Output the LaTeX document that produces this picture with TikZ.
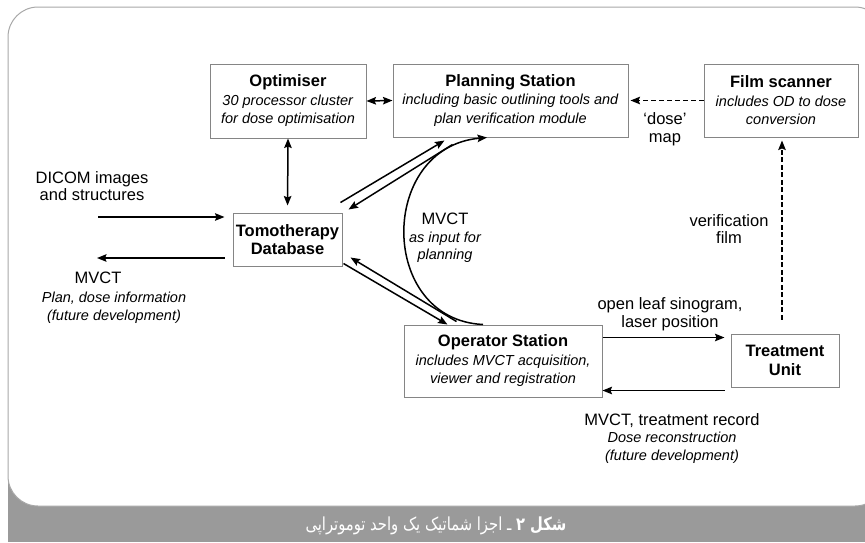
\documentclass[tikz,border=0pt]{standalone}
\usepackage{fontspec}
\setmainfont{Liberation Sans}
\newfontfamily\arabicfont[Script=Arabic, FakeStretch=0.82]{DejaVu Sans}
\TeXXeTstate=1
\usetikzlibrary{arrows.meta,calc}
\definecolor{capgray}{HTML}{9A9A9A}
\definecolor{framegray}{HTML}{A8A8A8}
\definecolor{boxgray}{HTML}{858585}
\newcommand\boxtitle[1]{{\bfseries\fontsize{16.5}{18.5}\selectfont #1}}
\newcommand\itL{\fontsize{14.5}{17.5}\selectfont\itshape}
\begin{document}
\begin{tikzpicture}[x=1pt,y=-1pt,
  >={Stealth[length=9.5pt,width=7.5pt,inset=1.5pt]},
  box/.style={draw=boxgray, line width=1pt, inner sep=0pt, align=center,
    font=\fontsize{14.5}{18.5}\selectfont},
  lbl/.style={inner sep=0pt, align=center, font=\fontsize{16.5}{17.5}\selectfont},
  conn/.style={line width=1.5pt, ->},
  dconn/.style={conn, dash pattern=on 5pt off 3pt},
]
\useasboundingbox (0,0) rectangle (865,542);
\fill[capgray] (8,470) rectangle (865,542);
\draw[draw=framegray, fill=white, line width=1pt, rounded corners=30pt] (8,7) rectangle (885,506);

% boxes
\node[box, minimum width=156pt, minimum height=74pt] (opt) at (288,101)
  {\boxtitle{Optimiser}\\\textit{30 processor cluster}\\\textit{for dose optimisation}};
\node[box, minimum width=235pt, minimum height=73pt] (plan) at (510.5,100.5)
  {\boxtitle{Planning Station}\\\textit{including basic outlining tools and}\\\textit{plan verification module}};
\node[box, minimum width=154pt, minimum height=73pt] (film) at (781,100.5)
  {\boxtitle{Film scanner}\\\textit{includes OD to dose}\\\textit{conversion}};
\node[box, minimum width=109pt, minimum height=53pt] (tomo) at (287.5,239.5)
  {\boxtitle{Tomotherapy}\\\boxtitle{Database}};
\node[box, minimum width=198pt, minimum height=72pt] (oper) at (503,361)
  {\boxtitle{Operator Station}\\\textit{includes MVCT acquisition,}\\\textit{viewer and registration}};
\node[box, minimum width=108pt, minimum height=53pt] (treat) at (785,360.5)
  {\boxtitle{Treatment}\\\boxtitle{Unit}};

% labels
\node[lbl] (dicom) at (92,186) {DICOM images\\and structures};
\node[lbl] (mvctL) at (98,278) {MVCT};
\node[lbl, font=\itL] (mvctInfo) at (114,307.5) {Plan, dose information\\(future development)};
\node[lbl] (curveLbl) at (445,238) {MVCT\\{\itL as input for}\\{\itL planning}};
\node[lbl] (verif) at (729,229) {verification\\film};
\node[lbl] (doseMap) at (665,129) {‘dose’\\map};
\node[lbl] (sino) at (670,314) {open leaf sinogram,\\laser position};
\node[lbl] (record) at (672,438.5) {MVCT, treatment record\\{\itL Dose reconstruction}\\{\itL (future development)}};

% connectors
\draw[conn, <->] (opt.east) -- (plan.west);
\draw[conn, <->, shorten >=7pt] (opt.south) -- (tomo.north);

\coordinate (dicomS) at (98,217);
\draw[conn, shorten >=8pt] (dicomS) -- (dicomS -| tomo.west);
\coordinate (mvctE) at (97,258);
\draw[conn, shorten <=8pt] (mvctE -| tomo.west) -- (mvctE);

\draw[conn] ([shift={(-2,-10)}]tomo.north east) -- ([shift={(52,3)}]plan.south west);
\draw[conn] ([shift={(60,7)}]plan.south west) -- ([shift={(6,-3)}]tomo.north east);

\draw[conn] ([shift={(53,-3)}]oper.north west) -- ([shift={(8,-9)}]tomo.south east);
\draw[conn] ([shift={(1,-3)}]tomo.south east) -- ([shift={(44,0)}]oper.north west);

\draw[conn] ([shift={(-20,0)}]oper.north) .. controls +(-105,-5) and +(-109,10) .. ([shift={(-23.5,0)}]plan.south);

\coordinate (r1) at ([shift={(0,13)}]oper.north east);
\draw[conn, shorten >=6pt] (r1) -- (r1 -| treat.west);
\coordinate (r2) at ([shift={(0,-7)}]oper.south east);
\draw[conn, shorten <=6pt] (r2 -| treat.west) -- (r2);

\coordinate (v1) at ([shift={(-3,-14)}]treat.north);
\draw[conn, dash pattern=on 5pt off 2.5pt, shorten >=3pt] (v1) -- (v1 |- film.south);
\draw[dconn, shorten >=2pt] (film.west) -- (plan.east);

% caption
\node[text=white, inner sep=0pt, font=\arabicfont\fontsize{18}{21}\selectfont] (cap) at (436,526)
  {\beginR{\bfseries شکل ۲} ـ اجزا شماتیک یک واحد توموتراپی\endR};
\end{tikzpicture}
\end{document}
